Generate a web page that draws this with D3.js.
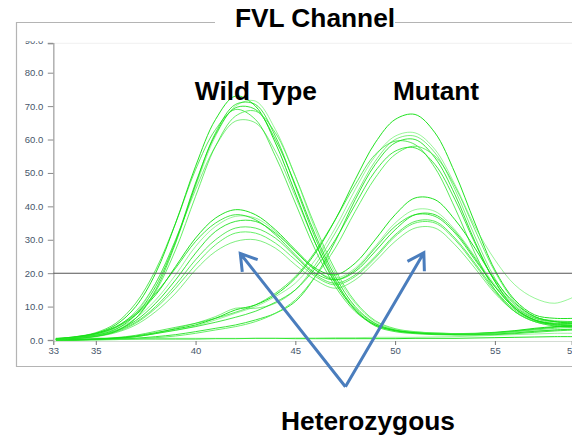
<!DOCTYPE html>
<html><head><meta charset="utf-8">
<script src="https://cdn.jsdelivr.net/npm/d3@7"></script>
<style>body{margin:0;background:#fff}svg{display:block}</style>
</head><body>
<svg id="c" width="572" height="436"></svg>
<script>
// ---- data ----
const temps = [33,34,35,36,37,38,39,40,41,42,43,44,45,46,47,48,49,50,51,52,53,54,55,56,57,58,59];

const wildType = [
  [.4,1,2,4.5,10,20,35,52,66,73,70,59,44,29,17,9,4.5,2.8,2.2,2,1.9,2,2.3,2.8,3.5,4,4.2],
  [.3,.8,1.6,3.6,8,17,30,46,61,70,71.5,63,49,33,20,11,5.5,3.2,2.4,2.1,1.9,1.8,2,2.3,2.7,3,3.2],
  [.2,.7,1.4,3.2,7.5,16,29.5,47,61.5,69.5,69,60,46.5,31.5,19,10,5,3,2.2,1.8,1.6,1.6,1.8,2.1,2.6,3,3.3],
  [.4,1,2.2,5,11,21,35,51,63,69,66,55,41,27,16,8.5,4.5,2.8,2.1,1.8,1.7,1.8,2.1,2.6,3.2,3.8,4.2],
  [.2,.6,1.2,2.8,6.5,14.5,27,43,58,67,68.5,62,49,34,21,11.5,5.8,3.4,2.5,2.1,1.9,1.9,2.1,2.5,3,3.5,3.8],
  [.3,.8,1.7,3.8,8.5,17,30,45,58,65.5,65,56.5,43,29,17.5,9.5,4.8,2.9,2.2,1.9,1.8,1.9,2.2,2.7,3.3,3.9,4.4],
  [.2,.5,1.1,2.6,6.5,15,29,46.5,62,70.5,70.5,61,46,30.5,18,9,4.2,2.5,1.9,1.6,1.5,1.5,1.6,1.9,2.3,2.7,3]
];

const heterozygous = [
  [.3,.8,1.8,3.8,7.5,13.5,22,30.5,36.5,39,37.5,33,27,21.5,19.5,23,30,37.5,42.5,42,36,27.5,18,11,7,5.5,5],
  [.2,.7,1.5,3.3,6.5,12,19.5,28,34,37,36.5,32.5,26.5,21,18.5,21.5,28,35,39,38.5,33,25,16.5,10,6.5,5,4.5],
  [.2,.6,1.3,2.8,5.8,11,18,26,32.5,35.5,35.5,32,26.5,21,18,20.5,26.5,33,37.5,37.5,32.5,24.5,16,9.5,6,4.6,4.2],
  [.2,.5,1.2,2.6,5.3,10,16.5,24,30,33.5,33.5,30.5,25,19.5,17,19.5,25,31.5,35.5,35.5,30.5,23,15,9,5.8,4.4,4],
  [.2,.5,1.1,2.4,5,9.5,15.5,22.5,28.5,32,32,29,24,19,16.5,19,24.5,31,35,35,30,22.5,14.5,8.5,5.5,4.2,3.8],
  [.1,.4,1,2.2,4.5,8.5,14,21,26.5,29.5,30,27.5,22.5,18,15.5,18,23.5,29.5,33.5,33.5,28.5,21.5,14,8.5,5.5,4.2,3.8],
  [.3,.9,2,4,8,14,21.5,29.5,35,37.5,36,31.5,25.5,20,18,21,27.5,34,37.5,37,32,24,16,9.5,6,4.8,4.4]
];

const mutant = [
  [0,.1,.3,.6,1.2,2.2,3.3,4.5,6.5,9,10.5,13.5,18.5,26,36,48,59,66,67.5,62,50,35,21,12,7.5,6.5,6.5],
  [0,0,.2,.5,1,2,3,4.2,6,8,10,13,17,24,33.5,45,55,61,62,57,46.5,34,24,16.5,12.5,11,13],
  [0,0,.1,.2,.5,1,1.6,2.5,3.5,4.5,6,8,11.5,19,29.5,42,52.5,59,60,54.5,43.5,29.5,17.5,9.5,6,5,5],
  [0,.1,.3,.7,1.4,2.6,3.8,5,6.5,8.3,10.5,14,19,26.5,36,46.5,55.5,59.5,58.5,51.5,39.5,26,15,8.5,5.5,4.8,4.8],
  [0,0,0,.1,.3,.7,1.2,2,3,4,5.5,8,12,19,27.5,38.5,48.5,55.5,58,55,46,33,20.5,11.5,7,5.5,5.2],
  [0,0,.2,.5,1,2,3.5,5,7,9.5,9.5,11,15,22.5,32,43,53.5,60,61,56,45,31,18.5,10.5,6.8,5.8,5.5],
  [0,0,.2,.5,1,1.9,2.9,4,5.3,6.8,8.6,11.3,15,21.5,30,40.5,50.5,56.5,57.5,52.5,42,29,17.5,10,6.5,5.5,5.5]
];

const noTemplate = [
  [.3,.3,.3,.3,.3,.3,.3,.3,.4,.4,.5,.5,.4,.4,.4,.4,.4,.4,.5,.5,.5,.6,.7,.8,.9,1,1],
  [.6,.6,.6,.6,.6,.6,.5,.5,.5,.5,.5,.5,.6,.6,.7,.7,.8,.8,.8,.9,1,1.2,1.4,1.6,1.8,2,2]
];

const yTickValues = [0,10,20,30,40,50,60,70,80];
const yTopLabel = "90.0";
const xTickValues = [32.87,35,40,45,50,55,58.85];
const xTickLabels = ["33","35","40","45","50","55","59"];
const threshold = 20;
const title = "FVL Channel";
const groupLabels = [
  {text:"Wild Type", t:43.02, v:70},
  {text:"Mutant", t:52.05, v:70}
];
const annotation = {text:"Heterozygous", tips:[[42.24,25.9],[51.44,26.1]], apex:[47.51,-14]};

// ---- drawing ----
const svg = d3.select("#c");
const font = "'Liberation Sans', Arial, sans-serif";
const bigFont = "26.3px";
const x = d3.scaleLinear().domain([32.87,58.85]).range([53.3,571.7]);
const y = d3.scaleLinear().domain([0,88.8]).range([340,43.3]);

// frame
const frameColor = "#b4b4b4";
svg.append("path")
  .attr("d","M215,22.5H16.5V366.5H572 M395,22.5H572")
  .attr("fill","none").attr("stroke",frameColor).attr("stroke-width",1.2);

// faint top of plot
svg.append("line").attr("x1",53.3).attr("x2",572).attr("y1",43.3).attr("y2",43.3)
  .attr("stroke","#f0f0f0");

// clip
svg.append("clipPath").attr("id","pc").append("rect")
  .attr("x",53.3).attr("y",43.3).attr("width",520).attr("height",300);

// axes
const yAxis = d3.axisLeft(y).tickValues(yTickValues).tickFormat(d3.format(".1f"))
  .tickSize(5.5).tickPadding(4.5);
const gy = svg.append("g").attr("transform","translate(53.3,0)").call(yAxis);
gy.select(".domain").attr("stroke","#b0b0b0").attr("stroke-width",1.5);
gy.selectAll(".tick line").attr("stroke","#8a8a8a");
gy.selectAll("text").attr("fill","#46566a").style("font-family",font).style("font-size","9.5px");

// clipped top label
svg.append("clipPath").attr("id","tc").append("rect").attr("x",0).attr("y",41.2).attr("width",60).attr("height",10);
svg.append("text").attr("x",43.3).attr("y",y(88.8)+0.3).attr("text-anchor","end")
  .attr("clip-path","url(#tc)").attr("fill","#46566a")
  .style("font-family",font).style("font-size","9.5px").text(yTopLabel);
svg.append("line").attr("x1",47.8).attr("x2",53.3).attr("y1",y(88.8)).attr("y2",y(88.8)).attr("stroke","#8a8a8a");

const xAxis = d3.axisBottom(x).tickValues(xTickValues).tickFormat((d,i)=>xTickLabels[i])
  .tickSize(4).tickPadding(2.7);
const gx = svg.append("g").attr("transform","translate(0,341)").call(xAxis);
gx.select(".domain").attr("stroke","#d4dcd4").attr("stroke-width",1);
gx.selectAll(".tick line").attr("stroke","#777");
gx.selectAll("text").attr("fill","#46566a").style("font-family",font).style("font-size","9.5px");

// curves
const line = d3.line().x((d,i)=>x(temps[i])).y(d=>y(d)).curve(d3.curveCatmullRom.alpha(0.5));
const gc = svg.append("g").attr("clip-path","url(#pc)");
const groups = [noTemplate, mutant, heterozygous, wildType];
const opac = [0.95,0.6,0.85,0.7,0.9,0.55,0.8];
groups.forEach(g=>{
  g.forEach((s,i)=>{
    gc.append("path").attr("d",line(s)).attr("fill","none")
      .attr("stroke", i%3===1 ? "#55ee55" : "#16e016")
      .attr("stroke-opacity",opac[i%opac.length])
      .attr("stroke-width",1);
  });
});

// threshold
svg.append("line").attr("x1",53.3).attr("x2",572).attr("y1",y(threshold)).attr("y2",y(threshold))
  .attr("stroke","#555").attr("stroke-width",1.1);

// title
svg.append("text").attr("x",315).attr("y",27).attr("text-anchor","middle")
  .style("font-family",font).style("font-weight","bold").style("font-size",bigFont)
  .attr("fill","#000").text(title);

// group labels
groupLabels.forEach(l=>{
  svg.append("text").attr("x",x(l.t)).attr("y",100).attr("text-anchor","middle")
    .style("font-family",font).style("font-weight","bold").style("font-size",bigFont)
    .attr("fill","#000").text(l.text);
});

// arrows
const ax = x(annotation.apex[0]), ay = y(annotation.apex[1]);
const arrowColor = "#4a7dbd";
annotation.tips.forEach(tp=>{
  const tx = x(tp[0]), ty = y(tp[1]);
  const dx = ax-tx, dy = ay-ty, L = Math.hypot(dx,dy);
  const ux = dx/L, uy = dy/L, a = 32*Math.PI/180, wl = 18.5;
  const w1 = [tx + wl*(ux*Math.cos(a)-uy*Math.sin(a)), ty + wl*(ux*Math.sin(a)+uy*Math.cos(a))];
  const w2 = [tx + wl*(ux*Math.cos(-a)-uy*Math.sin(-a)), ty + wl*(ux*Math.sin(-a)+uy*Math.cos(-a))];
  svg.append("path").attr("d",`M${ax},${ay}L${tx},${ty}M${w1[0]},${w1[1]}L${tx},${ty}L${w2[0]},${w2[1]}`)
    .attr("fill","none").attr("stroke",arrowColor).attr("stroke-width",3).attr("stroke-linejoin","miter");
});
svg.append("text").attr("x",368).attr("y",430).attr("text-anchor","middle")
  .style("font-family",font).style("font-weight","bold").style("font-size",bigFont)
  .attr("fill","#000").text(annotation.text);
</script>
</body></html>
